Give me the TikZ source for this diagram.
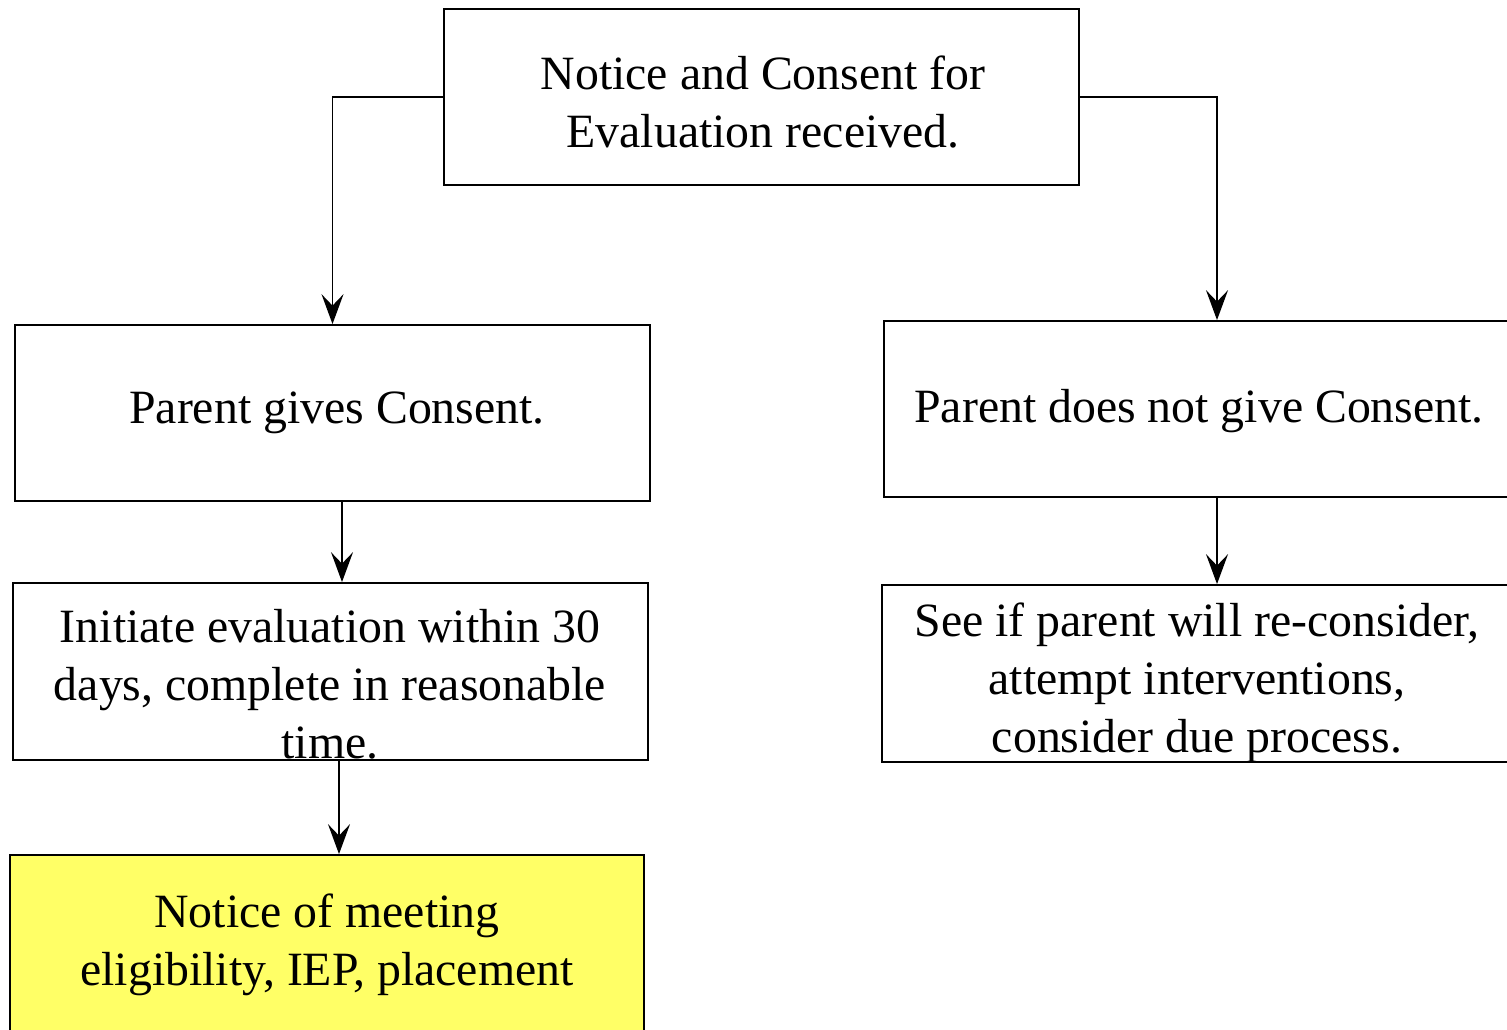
\documentclass[tikz,border=0pt]{standalone}
\usepackage{fontspec}
\setmainfont{Liberation Serif}
\usetikzlibrary{arrows.meta}
\definecolor{notefill}{HTML}{FFFF66}

\begin{document}
\begin{tikzpicture}[x=0.02cm,y=-0.02cm,
  stepbox/.style={draw=black,line width=1.1pt,rectangle,inner sep=0pt,minimum width=12.7cm,minimum height=3.52cm},
  steptext/.style={align=center,inner sep=0pt,font=\fontsize{27.2}{33}\selectfont},
  flow/.style={line width=1.1pt,-{Stealth[length=17pt,width=12.5pt,inset=6.5pt]}}]
\useasboundingbox (0,0) rectangle (1507,1029);
% boxes
\node[stepbox] (notice) at (761.5,97) {};
\node[stepbox] (gives) at (332.5,413) {};
\node[stepbox,minimum width=13.32cm] (refuse) at (1217,409) {};
\node[stepbox,minimum height=3.54cm] (init) at (330.5,671.5) {};
\node[stepbox,minimum width=13.4cm,minimum height=3.54cm] (recon) at (1217,673.5) {};
\node[stepbox,fill=notefill] (meet) at (327,943) {};
% texts
\node[steptext] (noticeT) at (763,102) {Notice and Consent for\\Evaluation received.};
\node[steptext] (givesT) at (337,413) {Parent gives Consent.};
\node[steptext] (refuseT) at (1199,411) {Parent does not give Consent.};
\node[steptext] (initT) at (330,684) {Initiate evaluation within 30\\days, complete in reasonable\\time.};
\node[steptext] (reconT) at (1197,683) {See if parent will re-consider,\\attempt interventions,\\consider due process.};
\node[steptext] (meetT) at (327,945) {Notice of meeting\\eligibility, IEP, placement};
% connectors
\draw[flow] (notice.west) -| (gives.north);
\draw[flow] (notice.east) -| (refuse.north);
\draw[flow] ([xshift=0.19cm]gives.south) -- ([xshift=0.19cm]gives.south |- init.north);
\draw[flow] (refuse.south) -- (recon.north);
\draw[flow] ([xshift=0.17cm]init.south) -- ([xshift=0.17cm]init.south |- meet.north);
\end{tikzpicture}
\end{document}
